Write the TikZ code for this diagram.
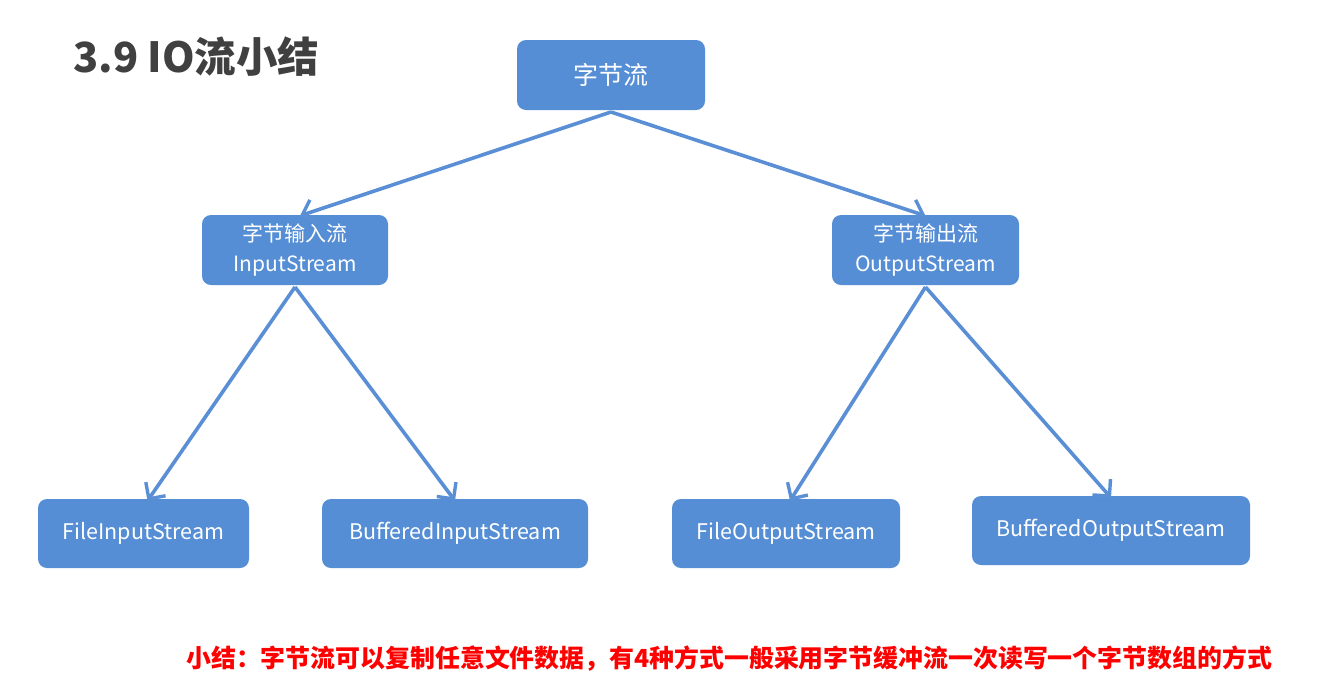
\documentclass[tikz,border=0pt]{standalone}
\usepackage{fontspec}
\setmainfont{Noto Sans CJK SC}
\newfontfamily\cjk{Noto Sans CJK SC}
\usetikzlibrary{arrows.meta,positioning}
\definecolor{boxblue}{HTML}{558ED5}
\definecolor{lineblue}{HTML}{5A8FD6}
\definecolor{titlegray}{HTML}{404040}
\definecolor{notered}{HTML}{FF0000}
\tikzset{
  streambox/.style={draw=none, fill=boxblue, rounded corners=9pt, text=white,
    font=\cjk\fontsize{21.5}{30}\selectfont, align=center, inner sep=0pt},
  conn/.style={draw=lineblue, line width=3.6pt,
    -{Straight Barb[length=12pt, width=24pt, line width=3.4pt]}},
}
\begin{document}
\begin{tikzpicture}[x=1pt, y=-1pt]
\useasboundingbox (0,0) rectangle (1322,681);
\fill[white] (0,0) rectangle (1322,681);
\node[anchor=west, text=titlegray, font=\cjk\bfseries\fontsize{41.5}{44}\selectfont, inner sep=0pt] (title) at (73,57) {3.9 IO流小结};

\node[streambox, minimum width=188pt, minimum height=70pt, font=\cjk\fontsize{25}{28}\selectfont] (root) at (611,75) {字节流};
\node[streambox, minimum width=186pt, minimum height=70pt, font=\cjk\fontsize{21}{30}\selectfont] (in) at (295,250) {字节输入流\\InputStream};
\node[streambox, minimum width=187pt, minimum height=70pt, font=\cjk\fontsize{21}{30}\selectfont] (out) at (925.5,250) {字节输出流\\OutputStream};
\node[streambox, minimum width=211pt, minimum height=69pt] (fis) at (143.5,533.5) {FileInputStream};
\node[streambox, minimum width=266pt, minimum height=69pt] (bis) at (455,533.5) {BufferedInputStream};
\node[streambox, minimum width=228pt, minimum height=69pt] (fos) at (786,533.5) {FileOutputStream};
\node[streambox, minimum width=278pt, minimum height=69pt] (bos) at (1111,530.5) {BufferedOutputStream};

\coordinate (rootb) at (611,112);
\coordinate (inb) at (295,287);
\coordinate (outb) at (925.5,287);
\draw[conn] (rootb) -- ([xshift=5pt,yshift=-1pt]in.north);
\draw[conn] (rootb) -- ([yshift=-1pt]out.north);
\draw[conn] (inb) -- ([xshift=4pt,yshift=-2pt]fis.north);
\draw[conn] (inb) -- ([yshift=-2pt]bis.north);
\draw[conn] (outb) -- ([xshift=4pt,yshift=-2pt]fos.north);
\draw[conn] (outb) -- ([yshift=-2pt]bos.north);

\node[anchor=west, text=notered, font=\cjk\bfseries\fontsize{24.9}{26}\selectfont, inner sep=0pt] (note) at (186,659) {小结：字节流可以复制任意文件数据，有4种方式一般采用字节缓冲流一次读写一个字节数组的方式};
\end{tikzpicture}
\end{document}
